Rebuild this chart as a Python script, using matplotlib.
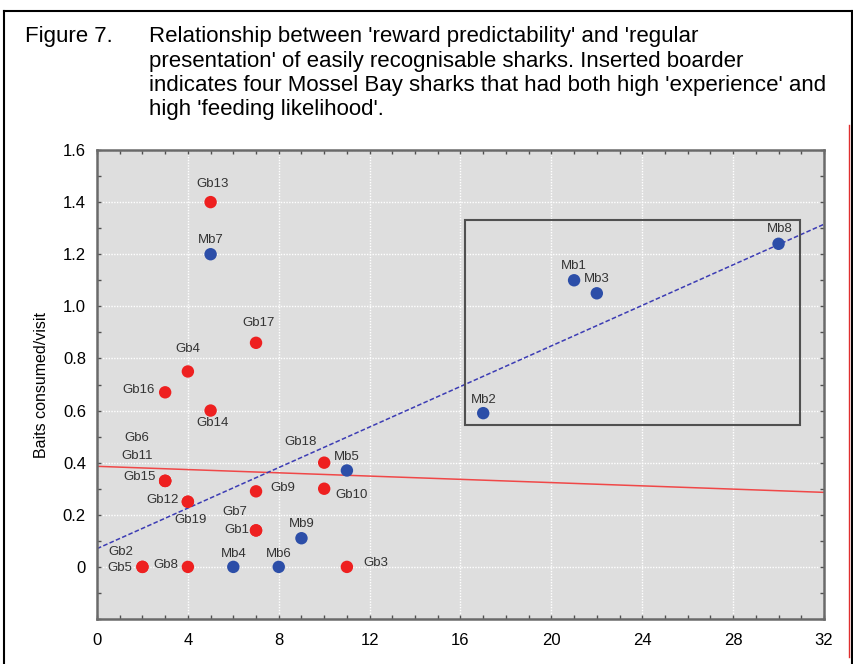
import matplotlib
matplotlib.use("Agg")
import matplotlib.pyplot as plt
from matplotlib.lines import Line2D
from matplotlib.patches import Rectangle
from matplotlib.ticker import MultipleLocator, FuncFormatter

plt.rcParams['font.family'] = ['Liberation Sans', 'DejaVu Sans']

# Shark data: regular presentation (x) vs baits consumed per visit (y)
names = ["Gb13", "Mb7", "Gb17", "Gb4", "Gb16", "Gb14", "Gb6", "Gb11", "Gb15",
         "Gb12", "Gb19", "Gb18", "Mb5", "Gb9", "Gb10", "Gb7", "Gb1", "Mb9",
         "Gb2", "Gb5", "Gb8", "Mb4", "Mb6", "Gb3", "Mb2", "Mb1", "Mb3", "Mb8"]
x_vals = [5, 5, 7, 4, 3, 5, 3, 3, 3,
          4, 4, 10, 11, 7, 10, 7, 7, 9,
          2, 2, 4, 6, 8, 11, 17, 21, 22, 30]
y_vals = [1.40, 1.20, 0.86, 0.75, 0.67, 0.60, 0.33, 0.33, 0.33,
          0.25, 0.25, 0.40, 0.37, 0.29, 0.30, 0.14, 0.14, 0.11,
          0.0, 0.0, 0.0, 0.0, 0.0, 0.0, 0.59, 1.10, 1.05, 1.24]

# fitted trend lines (value at x=0 and x=32)
line_x = [0, 32]
gb_line_y = [0.386, 0.286]
mb_line_y = [0.070, 1.315]

# inserted border around the four Mossel Bay sharks
box_x = [16.2, 30.95]
box_y = [0.545, 1.33]

# label offsets in pixels (dx, dy, ha)
label_pos = {
    "Gb13": (2, 18, "center"), "Mb7": (0, 14, "center"), "Gb17": (3, 20, "center"),
    "Gb4": (0, 22, "center"), "Gb16": (-10, 2, "right"), "Gb14": (2, -12, "center"),
    "Gb6": (-28, 43, "center"), "Gb11": (-28, 25, "center"), "Gb15": (-9, 4, "right"),
    "Gb12": (-9, 2, "right"), "Gb19": (3, -18, "center"), "Gb18": (-24, 21, "center"),
    "Mb5": (0, 13, "center"), "Gb9": (14, 3, "left"), "Gb10": (11, -6, "left"),
    "Gb7": (-21, 18, "center"), "Gb1": (-7, 0, "right"), "Mb9": (0, 14, "center"),
    "Gb2": (-22, 15, "center"), "Gb5": (-10, -1, "right"), "Gb8": (-10, 2, "right"),
    "Mb4": (0, 13, "center"), "Mb6": (0, 13, "center"), "Gb3": (16, 4, "left"),
    "Mb2": (1, 13, "center"), "Mb1": (0, 14, "center"), "Mb3": (0, 14, "center"),
    "Mb8": (1, 15, "center"),
}

red = "#ee2020"
blue = "#2c4ea8"

fig = plt.figure(figsize=(8.54, 6.64), dpi=100)
ax = fig.add_axes([97/854, 45/664, 727/854, 469/664])
ax.set_facecolor("#dedede")

ax.set_xlim(0, 32)
ax.set_ylim(-0.2, 1.6)
ax.xaxis.set_major_locator(MultipleLocator(4))
ax.xaxis.set_minor_locator(MultipleLocator(1))
ax.yaxis.set_major_locator(MultipleLocator(0.2))
ax.yaxis.set_minor_locator(MultipleLocator(0.1))
ax.yaxis.set_major_formatter(FuncFormatter(lambda v, p: "0" if abs(v) < 1e-9 else f"{v:.1f}"))
ax.set_yticks([t/10 for t in range(0, 17, 2)])
ax.tick_params(which="both", direction="in", top=True, right=True, color="#505050")
ax.tick_params(which="major", length=3, width=1, labelsize=12, pad=8)
ax.tick_params(which="minor", length=3, width=1)
ax.tick_params(axis="x", which="major", pad=10)
for s in ax.spines.values():
    s.set_color("#6a6a6a")
    s.set_linewidth(1.8)
ax.grid(True, which="major", color="white", linestyle=(0, (1, 1)), linewidth=1)
ax.set_axisbelow(True)

ax.set_ylabel("Baits consumed/visit", fontsize=11.5, labelpad=10)

ax.plot(line_x, gb_line_y, color="#f04848", linewidth=1.1, zorder=2)
ax.plot(line_x, mb_line_y, color="#3c3cb4", linewidth=1.1, linestyle=(0, (3, 1.5)), zorder=2)

ax.add_patch(Rectangle((box_x[0], box_y[0]), box_x[1] - box_x[0], box_y[1] - box_y[0],
                       fill=False, edgecolor="#505050", linewidth=1.5, zorder=3))

colors = [blue if n.startswith("Mb") else red for n in names]
ax.scatter(x_vals, y_vals, s=80, c=colors, zorder=4, linewidths=0)

for n, xv, yv in zip(names, x_vals, y_vals):
    dx, dy, ha = label_pos[n]
    ax.annotate(n, (xv, yv), xytext=(dx, dy), textcoords="offset pixels",
                ha=ha, va="center", fontsize=9.5, color="#333333", zorder=5)

# caption
fig.text(25/854, 1 - 42/664, "Figure 7.", fontsize=16, va="baseline")
caption = ["Relationship between 'reward predictability' and 'regular",
           "presentation' of easily recognisable sharks. Inserted boarder",
           "indicates four Mossel Bay sharks that had both high 'experience' and",
           "high 'feeding likelihood'."]
for i, line in enumerate(caption):
    fig.text(149/854, 1 - (42 + 24.5*i)/664, line, fontsize=16, va="baseline")

# page frame
fig.add_artist(Line2D([4.5/854, 4.5/854], [0, 1 - 11/664], color="black", linewidth=1.5))
fig.add_artist(Line2D([4.5/854, 852.5/854], [1 - 11/664, 1 - 11/664], color="black", linewidth=1.5))
fig.add_artist(Line2D([852.5/854, 852.5/854], [0, 1 - 11/664], color="black", linewidth=1.5))
fig.add_artist(Line2D([849.5/854, 849.5/854], [1 - 657/664, 1 - 125/664], color="#e03030", linewidth=1))

fig.savefig("out.png", dpi=100)
